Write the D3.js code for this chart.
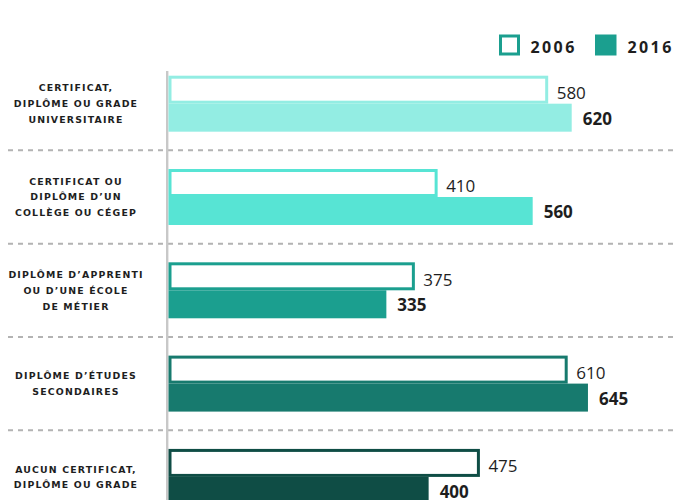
<!DOCTYPE html>
<html>
<head>
<meta charset="utf-8">
<script src="https://cdn.jsdelivr.net/npm/d3@7/dist/d3.min.js"></script>
<style>
  html, body { margin: 0; padding: 0; background: #fff; }
  svg { display: block; }
</style>
</head>
<body>
<svg id="chart" width="673" height="500"></svg>
<script>
// ---- data ----
const categories = [
  "Certificat, diplôme ou grade universitaire",
  "Certificat ou diplôme d'un collège ou cégep",
  "Diplôme d'apprenti ou d'une école de métier",
  "Diplôme d'études secondaires",
  "Aucun certificat, diplôme ou grade"
];
const labelLines = [
  ["CERTIFICAT,", "DIPLÔME OU GRADE", "UNIVERSITAIRE"],
  ["CERTIFICAT OU", "DIPLÔME D’UN", "COLLÈGE OU CÉGEP"],
  ["DIPLÔME D’APPRENTI", "OU D’UNE ÉCOLE", "DE MÉTIER"],
  ["DIPLÔME D’ÉTUDES", "SECONDAIRES"],
  ["AUCUN CERTIFICAT,", "DIPLÔME OU GRADE"]
];
const values2006 = [580, 410, 375, 610, 475];
const values2016 = [620, 560, 335, 645, 400];
const seriesNames = ["2006", "2016"];

// ---- styles ----
const colors = ["#93ede3", "#57e4d4", "#1b9f8f", "#177a6e", "#0f4d45"];
const legendColor = "#1b9f8f";
const textColor = "#1e1e1e";

const svg = d3.select("#chart");

const x = d3.scaleLinear().domain([0, 775]).range([168.5, 672.5]);
const y = d3.scaleBand().domain(categories).range([75.7, 504.9])
  .paddingInner(0.4).paddingOuter(0);
const bw = y.bandwidth();
const half = bw / 2;
const step = y.step();

// separators
const sepData = categories.slice(0, -1).map(c => y(c) + bw + (step - bw) / 2);
svg.append("g").selectAll("line").data(sepData).join("line")
  .attr("x1", 8).attr("x2", 673)
  .attr("y1", d => d).attr("y2", d => d)
  .attr("stroke", "#b3b3b3").attr("stroke-width", 2)
  .attr("stroke-dasharray", "5,5");

// axis line
svg.append("line")
  .attr("x1", x(0) - 1.3).attr("x2", x(0) - 1.3)
  .attr("y1", 71).attr("y2", 500)
  .attr("stroke", "#c8c8c8").attr("stroke-width", 2.4);

const rows = categories.map((c, i) => ({c, i, v06: values2006[i], v16: values2016[i]}));

// 2016 filled bars
svg.append("g").selectAll("rect").data(rows).join("rect")
  .attr("x", x(0))
  .attr("y", d => y(d.c) + half)
  .attr("width", d => x(d.v16) - x(0))
  .attr("height", half)
  .attr("fill", d => colors[d.i]);

// 2006 outlined bars
svg.append("g").selectAll("rect").data(rows).join("rect")
  .attr("x", x(0) + 1.5)
  .attr("y", d => y(d.c) + 1.5)
  .attr("width", d => x(d.v06) + 1 - (x(0) + 1.5))
  .attr("height", half - 3)
  .attr("fill", "#fff")
  .attr("stroke", d => colors[d.i])
  .attr("stroke-width", 3);

// value labels
svg.append("g").selectAll("text").data(rows).join("text")
  .attr("x", d => x(d.v06) + 11)
  .attr("y", d => y(d.c) + half / 2 + 9.4)
  .attr("font-family", "'Open Sans', sans-serif")
  .attr("font-size", 17)
  .attr("fill", textColor)
  .text(d => d.v06);

svg.append("g").selectAll("text").data(rows).join("text")
  .attr("x", d => x(d.v16) + 11)
  .attr("y", d => y(d.c) + half + half / 2 + 7.1)
  .attr("font-family", "'Open Sans', sans-serif")
  .attr("font-size", 17)
  .attr("font-weight", "bold")
  .attr("fill", textColor)
  .text(d => d.v16);

// category labels
const lineH = 15.8;
const lab = svg.append("g").selectAll("text").data(rows).join("text")
  .attr("text-anchor", "middle")
  .attr("font-family", "'DejaVu Sans', sans-serif")
  .attr("font-size", 9.4)
  .attr("font-weight", "bold")
  .attr("letter-spacing", 1.15)
  .attr("fill", textColor);
lab.each(function(d) {
  const lines = labelLines[d.i];
  const cy = y(d.c) + half;
  const first = cy - (lines.length - 1) * lineH / 2 + 3.5;
  d3.select(this).selectAll("tspan").data(lines).join("tspan")
    .attr("x", 76)
    .attr("y", (l, j) => first + j * lineH)
    .text(l => l);
});

// legend
const leg = svg.append("g");
leg.append("rect").attr("x", 500.5).attr("y", 36).attr("width", 18).attr("height", 18)
  .attr("fill", "#fff").attr("stroke", legendColor).attr("stroke-width", 3);
leg.append("text").attr("x", 530.5).attr("y", 52.7)
  .attr("font-family", "'Open Sans', sans-serif").attr("font-size", 16)
  .attr("font-weight", "bold").attr("letter-spacing", 2.4).attr("fill", textColor)
  .text(seriesNames[0]);
leg.append("rect").attr("x", 595).attr("y", 34.5).attr("width", 21.5).attr("height", 21)
  .attr("fill", legendColor);
leg.append("text").attr("x", 627.5).attr("y", 52.7)
  .attr("font-family", "'Open Sans', sans-serif").attr("font-size", 16)
  .attr("font-weight", "bold").attr("letter-spacing", 2.4).attr("fill", textColor)
  .text(seriesNames[1]);
</script>
</body>
</html>
